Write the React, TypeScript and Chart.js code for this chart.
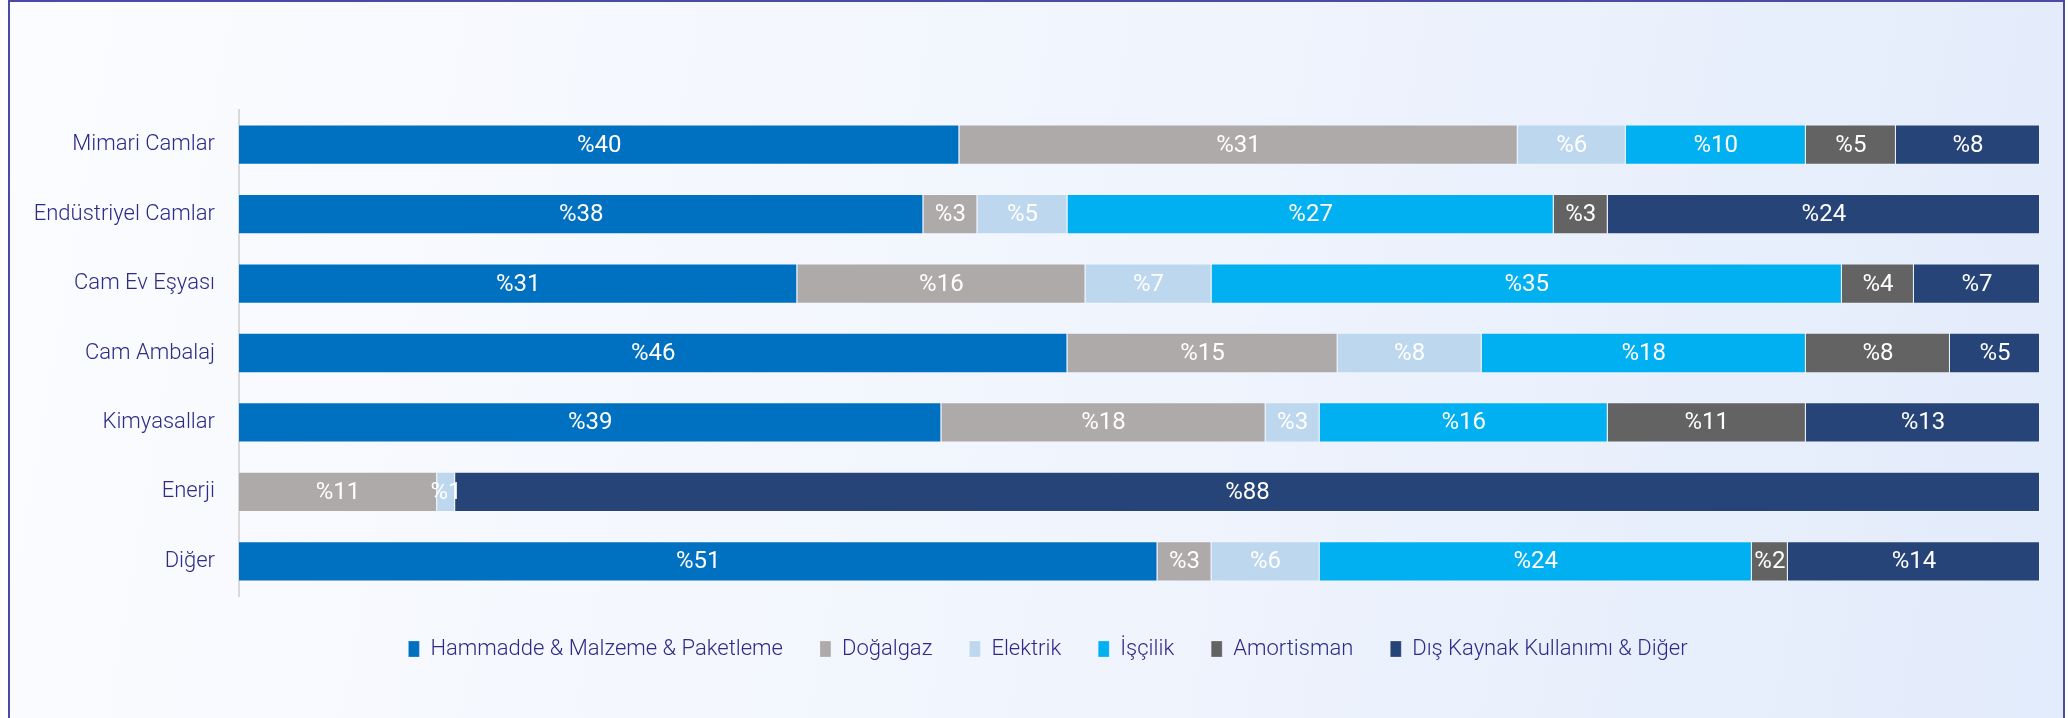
import React, { useEffect, useRef } from "react";
import { Chart, registerables } from "chart.js";

Chart.register(...registerables);

const categories = [
  "Mimari Camlar",
  "Endüstriyel Camlar",
  "Cam Ev Eşyası",
  "Cam Ambalaj",
  "Kimyasallar",
  "Enerji",
  "Diğer",
];
const seriesNames = [
  "Hammadde & Malzeme & Paketleme",
  "Doğalgaz",
  "Elektrik",
  "İşçilik",
  "Amortisman",
  "Dış Kaynak Kullanımı & Diğer",
];
const hammadde = [40, 38, 31, 46, 39, 0, 51];
const dogalgaz = [31, 3, 16, 15, 18, 11, 3];
const elektrik = [6, 5, 7, 8, 3, 1, 6];
const iscilik = [10, 27, 35, 18, 16, 0, 24];
const amortisman = [5, 3, 4, 8, 11, 0, 2];
const disKaynak = [8, 24, 7, 5, 13, 88, 14];
const seriesColors = ["#0070c0", "#aeaaaa", "#bdd7ee", "#00b0f0", "#636363", "#264478"];

const labelPlugin = {
  id: "segLabels",
  afterDatasetsDraw(chart: any) {
    const ctx = chart.ctx;
    ctx.save();
    ctx.font = "400 24px Roboto";
    ctx.fillStyle = "#ffffff";
    ctx.textAlign = "center";
    ctx.textBaseline = "middle";
    chart.data.datasets.forEach((ds: any, i: number) => {
      const meta = chart.getDatasetMeta(i);
      meta.data.forEach((el: any, j: number) => {
        const v = ds.data[j];
        if (!v) return;
        const p = el.getCenterPoint();
        ctx.fillText("%" + v, p.x, p.y + 1);
      });
    });
    ctx.restore();
  },
};

const legendShiftPlugin = {
  id: "legendShift",
  afterLayout(chart: any) {
    const l = chart.legend;
    if (l) {
      l.left += 23;
      l.right += 23;
    }
  },
};

export default function App() {
  const ref = useRef<HTMLCanvasElement | null>(null);
  useEffect(() => {
    if (!ref.current) return;
    const all = [hammadde, dogalgaz, elektrik, iscilik, amortisman, disKaynak];
    const chart = new Chart(ref.current, {
      type: "bar",
      data: {
        labels: categories,
        datasets: all.map((d, i) => ({
          label: seriesNames[i],
          data: d,
          backgroundColor: seriesColors[i],
          borderColor: "rgba(255,255,255,0.25)",
          borderWidth: 1,
          barPercentage: 0.58,
          categoryPercentage: 1,
        })),
      },
      options: {
        indexAxis: "y",
        animation: false,
        responsive: false,
        maintainAspectRatio: false,
        layout: { padding: { left: 0, right: 23, top: 108, bottom: 48 } },
        scales: {
          x: {
            display: true,
            stacked: true,
            min: 0,
            max: 100,
            grid: { display: false, drawTicks: true, tickLength: 5 },
            border: { display: false },
            ticks: { display: false },
          },
          y: {
            stacked: true,
            grid: { display: false, drawTicks: false },
            border: { display: true, color: "#d9d9d9", width: 2 },
            ticks: {
              padding: 24,
              color: "#2d2b88",
              font: { family: "Roboto", weight: "300", size: 22 },
            },
            afterFit: (scale: any) => {
              scale.width = 229;
            },
          },
        },
        plugins: {
          legend: {
            position: "bottom",
            labels: {
              boxWidth: 11,
              boxHeight: 16,
              padding: 37,
              color: "#2d2b88",
              font: { family: "Roboto", weight: "300", size: 22 },
            },
          },
          tooltip: { enabled: false },
        },
      },
      plugins: [labelPlugin, legendShiftPlugin],
    });
    return () => chart.destroy();
  }, []);

  return (
    <div
      style={{
        position: "absolute",
        left: 8,
        top: 0,
        width: 2057,
        height: 760,
        boxSizing: "border-box",
        border: "2px solid #4b4ba6",
        background: "linear-gradient(100deg, #fbfcff 0%, #f1f5fd 50%, #e2ebfb 100%)",
      }}
    >
      <canvas ref={ref} width={2053} height={716} style={{ display: "block" }} />
    </div>
  );
}
